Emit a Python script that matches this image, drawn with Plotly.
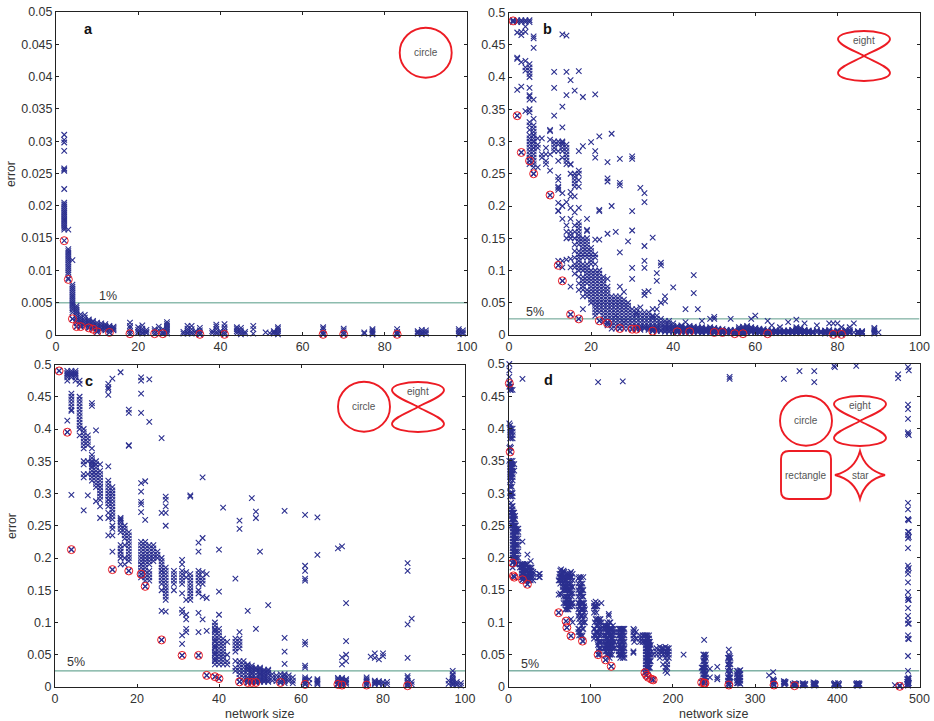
import plotly.graph_objects as go

W, H = 934, 721
BLUE = "#2b2f8f"
RED = "#ed1c24"

# ---------- panel a ----------
a_columns = {
    2: [.031, .0302, .0298, .0285, .0258, .0256, .0254, .0226, .0205, .0202, .0199, .0196, .0193, .019, .0187, .0184, .0181, .0178, .0175, .0172, .0169, .0166, .0163],
    3: [.0163, .0133, .013, .0127, .0124, .0121, .0118, .0115, .0112, .0109, .0106, .0103, .01, .0097, .0094, .0088],
    4: [.0116, .0078, .0075, .0072, .0069, .0066, .0063, .006, .0057, .0054, .0051, .0048, .0045, .0042, .0039, .0035, .0025],
    5: [.0045, .0042, .0039, .0036, .0033, .003, .0027, .0024, .0021, .0018, .0013],
    6: [.0032, .0028, .0025, .0022, .002, .0018, .0015, .0013],
    7: [.0031, .0027, .0023, .002, .0017, .0014],
    8: [.0024, .0021, .0019, .0016, .0013, .0011],
    9: [.0022, .002, .0017, .0014, .0012, .0009],
    10: [.0019, .0016, .0013, .0011, .0008, .0005],
    11: [.0018, .0015, .0013, .001, .0008],
    12: [.0017, .0014, .0012, .001, .0007],
    13: [.0014, .0012, .001, .0008, .0004],
    14: [.0013, .0011, .0009, .0007],
    18: [.0019, .0014, .0011, .0006, .0002],
    20: [.0012, .0008, .0005, .0003],
    21: [.0015, .001, .0007, .0004, .0002],
    22: [.0008, .0005, .0003],
    24: [.0009, .0006, .0002],
    25: [.0013, .0008, .0004],
    26: [.0009, .0005, .0002],
    27: [.002, .0017, .0014, .0011, .0008, .0005, .0002],
    31: [.0005, .0002],
    32: [.0014, .001, .0007, .0004, .0002],
    33: [.0014, .0009, .0005, .0002],
    34: [.0006, .0003],
    35: [.0011, .0007, .0004, .0001],
    38: [.0006, .0003],
    39: [.0016, .0013, .0009, .0005, .0002],
    40: [.0006, .0003],
    41: [.0017, .0012, .0008, .0004, .0001],
    44: [.0012, .0009, .0006, .0003],
    45: [.0011, .0007, .0004, .0001],
    46: [.0005, .0002],
    48: [.0014, .0009, .0002],
    51: [.0004],
    52: [.0003],
    53: [.0006, .0004, .0002],
    54: [.0012, .0009, .0006, .0003, .0001],
    65: [.0012, .0009, .0005, .0002, .0001],
    70: [.001, .0007, .0004, .0001],
    75: [.0004, .0002],
    77: [.0009, .0007, .0005, .0003, .0001],
    83: [.0009, .0005, .0003, .0001],
    88: [.0006, .0004, .0002],
    89: [.0008, .0005, .0003, .0001],
    90: [.0007, .0004, .0002],
    98: [.0009, .0006, .0003, .0001],
    99: [.0007, .0004, .0002],
}
a_red_x = [2, 3, 4, 5, 6, 8, 9, 10, 13, 18, 24, 26, 35, 41, 65, 70, 83]
a_red_y = [.0146, .0086, .0025, .0013, .0013, .0011, .0009, .0005, .0004, .0002, .0002, .0002, .0001, .0001, .0001, .0001, .0001]

# ---------- panel b ----------
b_columns = {
    1: [.488, .485],
    2: [.488, .485, .469, .43, .428, .38, .34],
    3: [.488, .485, .465, .47, .423, .385, .283],
    4: [.488, .485, .47, .478, .425, .415, .41, .347],
    5: [.488, .485, .42, .415, .41, .405, .40, .383, .372, .37, .365, .35, .345, .325, .318, .305, .295, .285, .28, .27, .265],
    6: [.463, .46, .445, .365, .325, .32, .315, .31, .305, .30, .295, .29, .285, .28, .27, .265, .26, .25],
    7: [.305, .295, .29, .26],
    8: [.305, .28, .275],
    9: [.29, .28, .27, .265],
    10: [.318, .316, .303, .28, .255, .217],
    11: [.408, .383, .34, .30, .295, .29, .285],
    12: [.30, .295, .285, .27, .245, .24, .23, .228, .225, .205, .193, .192, .115, .108],
    13: [.466, .354, .322, .30, .295, .29, .22, .20, .18, .115, .105, .084],
    14: [.464, .408, .372, .295, .285, .28, .27, .206, .17, .117],
    15: [.395, .265, .264, .25, .222, .215, .197, .18, .16, .155, .15, .118, .105, .075, .032],
    16: [.379, .245, .24, .235, .215, .19, .17, .16, .14, .13, .11, .095],
    17: [.409, .285, .255, .25, .24, .23, .197, .175, .17, .165, .155, .145, .13, .12, .115, .11, .105, .09, .07, .025],
    18: [.369, .293, .145, .14, .13, .10, .09, .07, .06, .04],
    19: [.18, .163, .161, .145, .14, .135, .125, .11, .09, .085, .06],
    20: [.299, .135, .125, .12, .09, .085, .07, .065, .05],
    21: [.373, .285, .275, .148, .125, .09, .085, .07, .065, .045, .035, .03],
    22: [.308, .194, .192, .148, .10, .085, .08, .06, .05, .04, .022],
    23: [.09, .08, .07, .065, .06, .05, .045, .03, .025],
    24: [.268, .243, .238, .157, .087, .07, .045, .04, .035, .03, .025, .02, .018],
    25: [.312, .20, .05, .045, .04, .035, .03, .025, .02, .015],
    26: [.16, .055, .05, .045, .04, .035, .03, .025, .02],
    27: [.273, .236, .232, .128, .075, .05, .04, .03, .025, .02, .01],
    28: [.067, .045, .04, .035, .03, .025, .02, .015],
    29: [.145, .04, .035, .03, .025, .02, .015],
    30: [.277, .273, .192, .162, .104, .087, .035, .03, .025, .02, .015, .009],
    31: [.033, .03, .025, .02, .015, .009],
    32: [.228, .043, .03, .025, .02, .015, .01],
    33: [.22, .206, .138, .115, .104, .067, .062, .03, .025, .02, .015, .01],
    34: [.068, .03, .025, .02, .015, .01],
    35: [.151, .04, .028, .02, .015, .01, .006],
    36: [.096, .084, .04, .02, .015, .01, .008],
    37: [.112, .108, .05, .02, .016, .012, .008],
    38: [.06, .052, .018, .014, .01, .007],
    39: [.018, .014, .01, .007],
    40: [.074, .018, .014, .01, .007],
    41: [.014, .01, .007, .005],
    42: [.015, .011, .008, .005],
    43: [.04, .02, .012, .008, .005],
    44: [.014, .01, .007, .005],
    45: [.093, .065, .013, .009, .006],
    46: [.04, .012, .008, .005],
    47: [.022, .01, .007, .004],
    48: [.011, .008, .005],
    49: [.025, .01, .007, .004],
    50: [.028, .025, .011, .007, .004],
    51: [.01, .007, .004],
    52: [.009, .006, .004],
    53: [.008, .005, .003],
    54: [.025, .008, .005, .003],
    55: [.008, .005, .002],
    56: [.009, .006, .003],
    57: [.013, .009, .005, .002],
    58: [.014, .01, .006, .003],
    59: [.025, .012, .008, .004],
    60: [.03, .011, .007, .004],
    61: [.01, .007, .004],
    62: [.009, .006, .003],
    63: [.022, .008, .005, .002],
    64: [.015, .007, .004],
    65: [.008, .005, .003],
    66: [.012, .007, .004],
    67: [.007, .005, .003],
    68: [.02, .007, .004],
    69: [.008, .005, .003],
    70: [.024, .012, .008, .005, .003],
    71: [.011, .007, .004],
    72: [.018, .008, .005, .003],
    73: [.007, .004],
    74: [.006, .003],
    75: [.015, .007, .004],
    76: [.006, .003],
    77: [.007, .004, .002],
    78: [.018, .008, .004],
    79: [.018, .006, .003],
    80: [.018, .007, .004],
    81: [.012, .006, .003],
    82: [.008, .004],
    83: [.012, .006, .003],
    84: [.018, .004],
    85: [.006, .004, .002],
    86: [.005, .003],
    89: [.011, .009, .007, .005, .003, .002],
    90: [.004],
}
b_extra = {
    5: [.33, .31, .30, .29, .275],
    6: [.335, .31, .30, .29, .275],
    13: [.298, .285, .275],
    14: [.29, .275, .265, .16, .15],
    16: [.25, .23, .15, .12, .105],
    17: [.16, .15, .14, .125, .10, .08],
    18: [.15, .135, .125, .12, .11, .105, .085, .08, .075],
    19: [.15, .13, .12, .105, .10, .095, .08, .07, .065],
    20: [.13, .115, .11, .10, .095, .08, .075, .06, .055],
    21: [.12, .11, .10, .095, .08, .075, .06, .055, .05, .04],
    22: [.095, .09, .075, .07, .065, .055, .045, .035],
    23: [.085, .075, .055, .04, .035, .02],
    24: [.075, .065, .06, .055, .05, .015],
    25: [.06, .055, .01],
    26: [.06, .03, .015, .01],
    27: [.06, .055, .045, .035, .015],
    28: [.055, .05, .02, .01],
    29: [.05, .045, .01],
    30: [.04, .01],
    31: [.035, .04, .012],
    32: [.035, .012, .008],
    33: [.035, .012],
    34: [.035, .012, .008],
    35: [.03, .025, .012, .008],
    36: [.03, .025, .012, .006],
    37: [.025, .006],
    38: [.022, .012, .005],
    39: [.022, .012, .005],
    40: [.012, .005],
    41: [.012, .008, .004],
    42: [.013, .009, .006, .004],
    43: [.01, .006, .004],
    44: [.012, .008, .004],
    45: [.011, .007, .004],
    46: [.01, .006, .004],
    47: [.012, .008, .005, .003],
    48: [.009, .006, .004],
    49: [.012, .008, .005, .003],
    50: [.009, .005, .003],
    51: [.008, .005, .003],
    52: [.007, .005, .003],
    53: [.006, .004],
    54: [.006, .004],
    55: [.006, .004],
    56: [.012, .007, .004],
    57: [.011, .007, .004, .003],
    58: [.012, .008, .005, .004],
    59: [.01, .006, .005],
    60: [.009, .006, .005],
    61: [.008, .006, .003],
    62: [.007, .005, .004],
    63: [.006, .004],
    64: [.006, .005, .003],
    65: [.006, .004],
    66: [.006, .005, .003],
    67: [.006, .004],
    68: [.006, .005, .003],
    69: [.007, .004],
    70: [.01, .007, .006, .004],
    71: [.009, .006, .005, .003],
    72: [.007, .006, .004],
    73: [.006, .005, .003],
    74: [.005, .004],
    76: [.005, .004],
    77: [.006, .005, .003],
    78: [.006, .005, .003],
    79: [.005, .004, .002],
    80: [.006, .005, .003],
    81: [.005, .004, .002],
    82: [.006, .005, .003],
    83: [.008, .005, .004],
    85: [.005, .003],
    86: [.006, .004, .002],
}
b_red_x = [1, 2, 3, 5, 6, 10, 12, 13, 15, 17, 22, 24, 27, 30, 31, 35, 41, 44, 50, 52, 55, 57, 63, 79, 81]
b_red_y = [.487, .34, .283, .27, .25, .217, .108, .084, .032, .025, .022, .018, .01, .009, .009, .006, .005, .005, .004, .004, .002, .002, .002, .001, .001]

# ---------- panel c ----------
c_columns = {
    1: [.49],
    3: [.49, .485, .48, .475, .413, .395],
    4: [.49, .485, .48, .455, .45, .445, .44, .435, .43, .428, .298, .213],
    5: [.49, .485, .48],
    6: [.475, .47, .45, .445, .44, .435, .43, .425, .42, .415, .41, .405, .40, .39],
    7: [.40, .395, .39, .385, .38, .375, .37, .35, .345, .33, .325, .274],
    8: [.39, .385, .38, .375, .35, .33, .297],
    9: [.44, .436, .36, .355, .35, .345, .34, .335, .33, .325],
    10: [.398, .345, .34, .335, .33, .325, .32, .31, .288],
    11: [.345, .33, .325, .32, .31, .30, .295, .28, .262],
    13: [.47, .465, .462, .453, .342, .31, .305, .30, .295, .29, .285, .27, .262, .235],
    14: [.478, .305, .30, .295, .29, .285, .28, .27, .26, .25, .235, .21, .182],
    16: [.488, .262, .258, .255, .25, .22, .215, .21, .205, .19],
    17: [.25, .245, .24, .235, .23, .19],
    18: [.43, .425, .375, .374, .235, .23, .225, .22, .21, .205, .20, .195, .18],
    21: [.48, .475, .455, .425, .316, .303, .287, .283, .271, .22, .215, .21, .205, .20, .195, .19, .185, .18, .175],
    22: [.319, .259, .22, .215, .21, .205, .20, .195, .19, .185, .18, .175, .156],
    23: [.477, .411, .22, .215, .205, .20, .195, .17, .165],
    24: [.22, .205, .20],
    26: [.386, .27, .195, .19, .185, .18, .175, .17, .165, .16, .15, .118, .073],
    27: [.295, .29, .28, .27, .25, .185, .18, .175, .17, .165, .16, .15, .14, .135, .117],
    29: [.18, .175, .17, .165, .15],
    31: [.197, .19, .18, .175, .17, .165, .145, .12, .115, .08, .067, .049],
    32: [.178, .17, .135, .112, .105, .09, .085],
    33: [.297, .295, .175, .17, .165, .16, .155, .15, .145],
    35: [.224, .21, .18, .175, .17, .165, .16, .15, .145, .115, .085, .049],
    36: [.325, .231, .178, .17, .165, .16, .14, .105],
    37: [.175, .138, .087, .018],
    39: [.095, .09, .085, .08, .075, .07, .065, .06, .055, .05, .045, .04, .035, .016],
    40: [.213, .148, .112, .08, .075, .07, .065, .06, .05, .04, .035, .013],
    41: [.278, .07, .065, .055, .05, .045, .04],
    44: [.168, .075, .07, .065, .06, .055, .04, .03, .025],
    45: [.258, .245, .085, .04, .035, .03, .025, .02, .014, .008],
    46: [.035, .03, .025],
    47: [.118, .035, .03, .025, .02, .015, .01, .007],
    48: [.293, .033, .028, .022, .016, .012, .007],
    49: [.272, .262, .09, .03, .025, .02, .015, .01, .007],
    50: [.21, .03, .025, .02, .015, .01],
    51: [.027, .022, .017, .012, .008],
    52: [.127, .027, .022, .016, .01],
    53: [.02, .015, .01],
    54: [.018, .013, .009],
    55: [.02, .015, .01, .007],
    56: [.273, .076, .055, .036, .018, .012],
    57: [.018, .013, .009],
    61: [.267, .188, .18, .168, .165, .07, .066, .033, .03, .015, .01, .004],
    62: [.012, .006],
    64: [.263, .205, .012, .008, .004],
    69: [.215, .014, .009, .004],
    70: [.218, .046, .035, .012, .007, .003],
    71: [.13, .071, .05, .04, .01, .005],
    76: [.015, .01, .006, .003],
    77: [.047],
    78: [.045, .052, .01, .006],
    79: [.043, .009, .005],
    80: [.052, .048, .008, .004],
    81: [.008, .004],
    86: [.192, .18, .097, .045, .017, .01, .006, .002],
    87: [.106, .008, .004],
    96: [.01, .005],
    97: [.025, .02, .015, .01, .005],
    98: [.008, .003],
    99: [.006, .002],
}
c_extra = {
    3: [.487, .483],
    4: [.487, .483],
    5: [.487, .483, .475],
    9: [.37, .348, .342, .33, .32],
    10: [.35, .345, .33, .315],
    11: [.335, .315, .31, .305, .29],
    13: [.32, .315, .29, .28],
    14: [.31, .275, .265, .245],
    16: [.26, .245, .24, .21, .2],
    17: [.22, .2],
    18: [.24, .215],
    21: [.225, .19, .17],
    22: [.225, .17, .165],
    23: [.21, .19, .18, .175],
    24: [.215, .21, .195],
    25: [.21, .205, .2],
    26: [.2, .18],
    27: [.155, .145],
    29: [.16],
    31: [.16],
    33: [.14, .135],
    39: [.1, .088, .072, .062, .052, .042],
    40: [.09, .085, .055, .045],
    41: [.075, .06, .035],
    42: [.07, .05, .04, .035],
    45: [.075, .07, .065, .06],
    46: [.04, .02, .015, .01],
    47: [.033, .028, .012],
    48: [.03, .025, .02, .014, .009],
    49: [.028, .012, .008],
    50: [.028, .022, .018, .012, .008],
    51: [.025, .02, .015, .01],
    52: [.025, .02, .013, .008],
    56: [.02, .015, .009, .006],
    58: [.015, .01, .006],
    61: [.012, .007],
    64: [.01, .006],
    69: [.012, .006],
    70: [.014, .01, .005],
    71: [.012, .007],
    76: [.012, .008],
    78: [.008, .004],
    79: [.007],
    86: [.014, .008, .004],
    97: [.018, .012, .007, .003],
    98: [.005],
}
c_red_x = [1, 3, 4, 14, 18, 21, 22, 26, 31, 35, 37, 39, 40, 45, 47, 48, 49, 55, 61, 69, 70, 76, 86]
c_red_y = [.49, .395, .213, .182, .18, .175, .156, .073, .049, .049, .018, .016, .013, .008, .007, .007, .007, .007, .004, .004, .003, .003, .002]

# ---------- panel d ----------
d_columns = {
    1: [.50, .49, .48, .47, .465, .408, .37, .35],
    2: [.47, .465, .46, .405, .40, .395, .39, .385, .372, .364, .345, .34, .335, .33, .325, .32, .31, .30, .295],
    3: [.465, .46, .40, .395, .385, .37, .35, .345, .34, .335, .33, .325, .315, .30, .295, .285, .27],
    4: [.345, .34, .335, .33, .31, .30, .28, .275, .27, .265, .26, .25],
    5: [.46, .40, .395, .39, .385, .35, .345, .34, .335, .33, .325, .32, .30, .295, .28, .275, .27, .265, .26, .255, .25, .245, .24, .235, .23, .225, .22, .215, .21, .205, .20, .192, .185],
    6: [.27, .265, .26, .255, .25, .24, .23, .22, .21, .20, .195, .172],
    7: [.345, .335, .27, .26, .25, .245, .235, .225, .215, .205, .17],
    8: [.265, .25, .24, .23, .22, .21, .20, .19],
    10: [.245, .24, .23, .22, .21, .20, .19],
    12: [.245, .24, .20],
    16: [.19, .185, .18, .175, .17],
    17: [.477, .225, .19, .185, .18, .175, .17, .166],
    18: [.19, .185, .18, .175, .17],
    20: [.19, .185, .18, .175, .17, .165],
    23: [.205, .19, .185, .18, .175, .17, .165, .159],
    25: [.18, .175, .17, .165],
    27: [.195, .18, .175, .17, .165],
    30: [.178, .175, .17, .165],
    37: [.175, .17],
    38: [.175, .17],
    61: [.165, .143, .115],
    62: [.175, .17, .165],
    64: [.182, .175, .17, .165, .143],
    66: [.178, .175, .17, .165, .16],
    68: [.178, .17, .165, .155],
    70: [.17, .16, .155, .15, .14, .135, .13, .12, .102],
    71: [.175, .165, .15, .14, .13, .125, .092],
    72: [.175, .17, .16, .155, .145, .135, .125, .12],
    74: [.175, .17, .16, .15, .14, .13, .125],
    76: [.178, .17, .16, .15, .145, .13, .105, .079],
    78: [.175, .165, .155, .145, .13, .125, .10],
    85: [.168, .16, .15, .14, .13, .12, .11, .09, .085],
    87: [.165, .155, .145, .135, .125, .115, .10, .085],
    88: [.17, .16, .15, .14, .13, .12, .11, .08],
    89: [.155, .145, .13, .12, .11, .095, .078],
    91: [.17, .15, .14, .13, .12, .105, .09, .071],
    92: [.13, .125, .115, .10],
    104: [.13, .125, .115, .09, .08, .075],
    106: [.132, .125, .105, .085],
    108: [.13, .125, .10, .085, .075],
    109: [.472, .105, .095, .085, .075, .07, .065, .05],
    111: [.105, .10, .09, .08, .07, .06, .05],
    113: [.13, .10, .09, .08, .07],
    118: [.095, .09, .08, .075, .065, .06, .055, .042],
    120: [.10, .09, .085, .075, .07, .06, .05],
    122: [.113, .11, .095, .09, .085, .08, .07, .065, .055],
    124: [.10, .09, .085, .08, .075, .065, .06, .05],
    125: [.09, .08, .075, .07, .055, .032],
    127: [.095, .085, .075, .065],
    129: [.085, .07, .06],
    134: [.09, .085, .08, .07, .055, .05],
    136: [.09, .08, .075, .065, .06, .05, .045],
    138: [.09, .085, .08, .075, .07, .06, .055, .05],
    139: [.473, .09, .08, .07, .06, .05, .045],
    140: [.09, .085, .075, .065, .055],
    152: [.09, .085, .08, .075, .055, .053],
    153: [.088, .08, .07],
    160: [.08, .075, .07],
    163: [.08, .075, .07],
    166: [.022, .08, .07],
    167: [.08, .075, .07, .065, .06, .055, .05, .045, .04, .035, .03, .025, .018],
    168: [.08, .07, .06, .05, .04, .03, .025, .018],
    170: [.075, .07, .065, .06, .055, .05, .045, .04, .035, .03, .025, .015],
    172: [.07, .06, .05, .04, .03],
    174: [.055, .012],
    176: [.05, .011],
    180: [.06, .055, .05],
    184: [.062, .055, .05, .045],
    188: [.06, .055, .05, .035],
    191: [.062, .055, .05, .045, .03, .025],
    193: [.06, .055, .05, .04, .035, .03, .022],
    213: [.05],
    235: [.03, .007],
    238: [.073, .05, .045, .04, .035, .03, .025, .02, .015, .01, .006],
    239: [.048, .04, .03, .025, .02, .01, .006],
    245: [.028, .015],
    254: [.031, .015, .012],
    268: [.058, .05, .045, .04, .035, .03, .02, .015, .01, .006, .003],
    269: [.48, .477, .048, .04, .03, .02, .015, .01, .005],
    270: [.045, .035, .025, .015, .008],
    278: [.025, .02, .015, .01, .006],
    280: [.022, .018, .012, .008],
    282: [.026, .02, .015, .01, .005],
    317: [.018],
    322: [.023, .012, .006],
    323: [.01, .003],
    335: [.477, .009, .007, .005],
    337: [.008, .006],
    346: [.005, .003],
    348: [.006, .003],
    350: [.005, .003],
    354: [.489],
    358: [.006, .004, .002],
    361: [.005, .003],
    371: [.007, .005, .003],
    372: [.489, .472, .006, .002],
    374: [.005, .003],
    396: [.497, .005, .003],
    397: [.495, .006, .002],
    402: [.005, .003],
    423: [.497, .005, .003],
    425: [.005, .002],
    427: [.005, .003],
    470: [.003],
    474: [.484, .478],
    476: [.003, .001],
    485: [.012, .008, .004],
    486: [.495, .437, .43, .415, .394, .392, .285, .275, .26, .259, .24, .235, .23, .215, .188, .18, .175, .162, .147, .138, .135, .122, .11, .103, .098, .08, .075, .048, .025, .012, .008, .004, .002],
    487: [.49, .39, .258, .24, .232, .184, .135, .098, .074, .013, .006],
}
d_extra = {
    8: [.26, .245, .235, .225, .215, .205, .195],
    9: [.25, .24, .23, .22, .21, .20, .19],
    12: [.23, .22, .21],
    14: [.19, .185],
    22: [.19, .18, .17],
    24: [.185, .175, .165],
    26: [.185, .175, .17],
    28: [.185, .18, .17],
    63: [.18, .17, .16, .145],
    66: [.17, .155, .15],
    67: [.18, .17, .16, .15, .14, .13],
    69: [.17, .165, .16, .15, .14, .13, .12],
    73: [.17, .15, .14, .13, .12],
    75: [.175, .165, .155, .145, .135, .125],
    77: [.17, .155, .14, .13],
    86: [.17, .155, .145, .13, .125, .115, .105, .09, .08],
    90: [.16, .15, .14, .13, .12, .11, .10, .09, .08],
    93: [.12, .11, .10],
    105: [.125, .12, .10, .09, .08],
    107: [.115, .105, .095, .085, .08],
    110: [.10, .09, .08, .07, .06, .055],
    112: [.105, .095, .085, .07, .06],
    116: [.095, .09, .08, .07, .06],
    119: [.095, .085, .08, .07, .065, .055, .05],
    121: [.095, .085, .075, .065, .06, .05],
    123: [.10, .09, .08, .07, .06, .05, .045],
    126: [.09, .08, .07, .06, .05],
    128: [.09, .08, .07, .06],
    135: [.09, .08, .075, .065, .06, .05],
    137: [.09, .085, .07, .06, .055, .05],
    141: [.09, .08, .07, .06, .05, .045],
    155: [.085, .075],
    164: [.08, .07],
    169: [.08, .075, .07, .065, .06, .055, .05, .045, .04, .035, .03, .025],
    171: [.08, .075, .07, .065, .06, .055, .05, .045, .04, .035, .03],
    173: [.065, .05, .04],
    186: [.06, .055],
    195: [.06, .055, .05, .045],
    236: [.03, .025, .01],
    237: [.05, .04, .03, .02, .015, .01],
    240: [.05, .045, .035, .03, .02, .015, .008],
    267: [.045, .035, .025, .015, .01, .005],
    279: [.024, .016, .01, .006],
    281: [.025, .02, .015, .01, .006],
    322.5: [.01, .008, .005],
    336: [.008, .006, .004],
    349: [.005, .003],
    359: [.005, .003],
    373: [.006, .005, .003],
    398: [.005, .003],
    401: [.006, .002],
    424: [.006, .004, .002],
    426: [.006, .004],
    486.5: [.015, .01, .006, .003],
}
d_red_x = [1, 2, 5, 6, 7, 17, 23, 61, 70, 71, 76, 90, 109, 118, 125, 166, 168, 170, 174, 176, 235, 238, 239, 268, 323, 348, 476]
d_red_y = [.47, .364, .192, .172, .17, .166, .159, .115, .102, .092, .079, .071, .05, .042, .032, .022, .018, .015, .012, .011, .007, .006, .006, .003, .003, .002, .001]

# ---------- axes & thresholds ----------
y_ticks_a = [0, .005, .01, .015, .02, .025, .03, .035, .04, .045, .05]
y_labels_a = ["0", "0.005", "0.01", "0.015", "0.02", "0.025", "0.03", "0.035", "0.04", "0.045", "0.05"]
y_ticks = [0, .05, .1, .15, .2, .25, .3, .35, .4, .45, .5]
y_labels = ["0", "0.05", "0.1", "0.15", "0.2", "0.25", "0.3", "0.35", "0.4", "0.45", "0.5"]
x_ticks_100 = [0, 20, 40, 60, 80, 100]
x_ticks_500 = [0, 100, 200, 300, 400, 500]
thresholds = {"a": .005, "b": .025, "c": .025, "d": .025}

frames = {"a": (56, 467, 12, 335), "b": (509, 919.5, 12.5, 335), "c": (55, 465, 364.5, 687), "d": (508.5, 919.5, 364, 687)}
panels = {
    "a": ([a_columns], a_red_x, a_red_y, 100, .05, x_ticks_100, y_ticks_a, y_labels_a, "#8dbcae", 1.6),
    "b": ([b_columns, b_extra], b_red_x, b_red_y, 100, .5, x_ticks_100, y_ticks, y_labels, "#5f9c8b", 1),
    "c": ([c_columns, c_extra], c_red_x, c_red_y, 100, .5, x_ticks_100, y_ticks, y_labels, "#6faa98", 1.2),
    "d": ([d_columns, d_extra], d_red_x, d_red_y, 500, .5, x_ticks_500, y_ticks, y_labels, "#3f8a78", 1),
}

fig = go.Figure()
TXT = "#333333"
layout = dict(template="none", width=W, height=H, margin=dict(l=0, r=0, t=0, b=0), paper_bgcolor="white", plot_bgcolor="white",
              showlegend=False, hovermode=False, font=dict(family="Liberation Sans, Arial, sans-serif", size=12.5, color=TXT))
for i, key in enumerate("abcd", start=1):
    col_sets, rx, ry, xmax, ymax, xt, yt, yl, line_col, line_w = panels[key]
    L, R, T, B = frames[key]
    sx = "" if i == 1 else str(i)
    axis_common = dict(ticks="inside", ticklen=3, tickwidth=1, tickcolor="#222", showline=True, linecolor="#222", linewidth=1,
                       mirror="ticks", showgrid=False, zeroline=False, automargin=False, tickfont=dict(size=12.5, color=TXT))
    layout["xaxis" + sx] = dict(domain=[L / W, R / W], range=[0, xmax], anchor="y" + sx, tickvals=xt, **axis_common)
    layout["yaxis" + sx] = dict(domain=[1 - B / H, 1 - T / H], range=[0, ymax], anchor="x" + sx, tickvals=yt, ticktext=yl, **axis_common)
    px_, py_ = list(rx), list(ry)
    for cols in col_sets:
        for x, ys in cols.items():
            px_ += [x] * len(ys)
            py_ += ys
    fig.add_trace(go.Scatter(x=[0, xmax], y=[thresholds[key]] * 2, mode="lines", line=dict(color=line_col, width=line_w),
                             xaxis="x" + sx, yaxis="y" + sx, hoverinfo="skip"))
    fig.add_trace(go.Scatter(x=px_, y=py_, mode="markers", cliponaxis=False, xaxis="x" + sx, yaxis="y" + sx,
                             marker=dict(symbol="x-thin", size=5.5, color=BLUE, line=dict(color=BLUE, width=1.1))))
    fig.add_trace(go.Scatter(x=rx, y=ry, mode="markers", cliponaxis=False, xaxis="x" + sx, yaxis="y" + sx,
                             marker=dict(symbol="circle-open", size=8, color=RED, line=dict(color=RED, width=1))))

def X(p): return p / W
def Y(p): return 1 - p / H

def ann(text, x, y, size=12.5, bold=False, color=TXT, angle=0):
    return dict(text=f"<b>{text}</b>" if bold else text, x=X(x), y=Y(y), xref="paper", yref="paper", showarrow=False,
                font=dict(size=size, color=color), xanchor="center", yanchor="middle", textangle=angle)

annotations = [
    ann("a", 88, 29, 14.5, True, "#111"), ann("b", 547, 29, 14.5, True, "#111"),
    ann("c", 88.5, 381, 14.5, True, "#111"), ann("d", 548, 380, 14.5, True, "#111"),
    ann("1%", 108, 296), ann("5%", 535, 312), ann("5%", 76, 662), ann("5%", 530, 664),
    ann("error", 11, 174, 12.3, angle=-90), ann("error", 12, 526, 12.3, angle=-90),
    ann("network size", 260, 714), ann("network size", 713.5, 714),
    ann("circle", 425.7, 52.5, 10, color="#555"), ann("eight", 864, 41, 10, color="#555"),
    ann("circle", 364, 406.5, 10, color="#555"), ann("eight", 418, 391.5, 10, color="#555"),
    ann("circle", 806, 420.5, 10, color="#555"), ann("eight", 860, 405.5, 10, color="#555"),
    ann("rectangle", 806, 475, 10, color="#555"), ann("star", 860, 475, 10, color="#555"),
]

def path_from(cmds, cx, cy):
    out = []
    for c, pts in cmds:
        coords = " ".join(f"{X(cx + dx):.5f},{Y(cy + dy):.5f}" for dx, dy in pts)
        out.append(f"{c} {coords}")
    return " ".join(out) + " Z"

EIGHT = [("M", [(0, 0)]), ("C", [(9, -5), (26, -11), (26, -17)]), ("C", [(26, -22), (12, -25), (0, -25)]),
         ("C", [(-12, -25), (-26, -22), (-26, -17)]), ("C", [(-26, -11), (-9, -5), (0, 0)]),
         ("C", [(9, 5), (26, 11), (26, 17)]), ("C", [(26, 22), (12, 25), (0, 25)]),
         ("C", [(-12, 25), (-26, 22), (-26, 17)]), ("C", [(-26, 11), (-9, 5), (0, 0)])]
STAR = [("M", [(0, -24)]), ("Q", [(5, -5), (25, 0)]), ("Q", [(5, 5), (0, 24)]), ("Q", [(-5, 5), (-25, 0)]), ("Q", [(-5, -5), (0, -24)])]
RECT = [("M", [(-17, -24)]), ("L", [(17, -24)]), ("Q", [(25, -24), (25, -16)]), ("L", [(25, 16)]), ("Q", [(25, 24), (17, 24)]),
        ("L", [(-17, 24)]), ("Q", [(-25, 24), (-25, 16)]), ("L", [(-25, -16)]), ("Q", [(-25, -24), (-17, -24)])]

red_line = dict(color=RED, width=1.9)
shapes = []
for cx, cy in [(425.7, 52.7), (364, 406.7), (806, 420.7)]:
    shapes.append(dict(type="circle", xref="paper", yref="paper", x0=X(cx - 26), x1=X(cx + 26), y0=Y(cy + 25), y1=Y(cy - 25), line=red_line))
for cx, cy in [(864, 56), (418, 407), (860, 421)]:
    shapes.append(dict(type="path", xref="paper", yref="paper", path=path_from(EIGHT, cx, cy), line=red_line))
shapes.append(dict(type="path", xref="paper", yref="paper", path=path_from(RECT, 806, 475), line=red_line))
shapes.append(dict(type="path", xref="paper", yref="paper", path=path_from(STAR, 860, 475), line=red_line))

fig.update_layout(**layout, annotations=annotations, shapes=shapes)
fig.write_html("out.html", config={"displayModeBar": False},
               post_script="document.body.style.margin='0';document.documentElement.style.overflow='hidden';")
